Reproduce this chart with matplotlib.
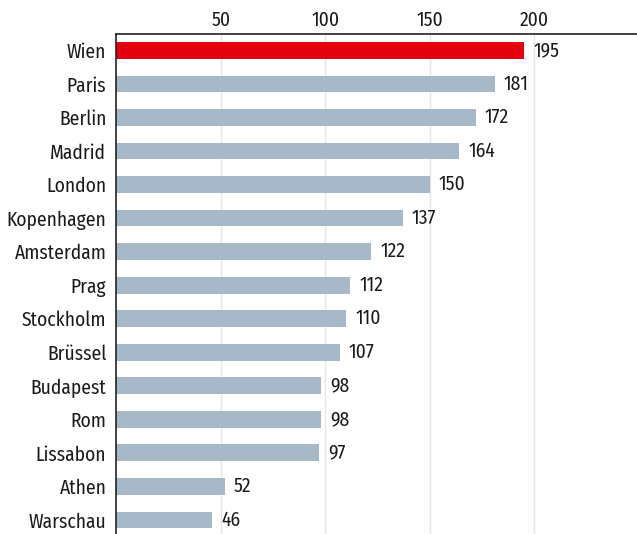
import matplotlib.pyplot as plt
import numpy as np

# data
cities = ["Wien", "Paris", "Berlin", "Madrid", "London", "Kopenhagen",
          "Amsterdam", "Prag", "Stockholm", "Brüssel", "Budapest", "Rom",
          "Lissabon", "Athen", "Warschau"]
values = [195, 181, 172, 164, 150, 137, 122, 112, 110, 107, 98, 98, 97, 52, 46]
ticks = [50, 100, 150, 200]

plt.rcParams['font.family'] = ['Fira Sans Condensed', 'Roboto Condensed',
                               'Liberation Sans Narrow', 'DejaVu Sans']

fig = plt.figure(figsize=(6.37, 5.34), dpi=100)
ax = fig.add_axes([116 / 637, 0, 1 - 116 / 637, 500 / 534])

y = np.arange(len(cities))
colors = ['#e3000f'] + ['#a7b8c8'] * (len(cities) - 1)
ax.barh(y, values, height=0.5, color=colors, zorder=2)

# value labels
for yi, v in zip(y, values):
    ax.text(v + 4.3, yi, str(v), va='center', ha='left', fontsize=14,
            color='#1a1a1a')

ax.set_xlim(0, 249)
ax.set_ylim(14.42, -0.49)
ax.set_yticks(y)
ax.set_yticklabels(cities, fontsize=14, color='#1a1a1a')
ax.set_xticks(ticks)
ax.xaxis.tick_top()
ax.tick_params(axis='x', length=0, pad=3, labelsize=14, labelcolor='#1a1a1a')
ax.tick_params(axis='y', length=0, pad=7)

# grid
ax.grid(axis='x', color='#e6e6e6', linewidth=1, zorder=0)

for s in ['right', 'bottom']:
    ax.spines[s].set_visible(False)
for s in ['top', 'left']:
    ax.spines[s].set_color('#222222')
    ax.spines[s].set_linewidth(1.2)

plt.savefig("out.png")
plt.close()
